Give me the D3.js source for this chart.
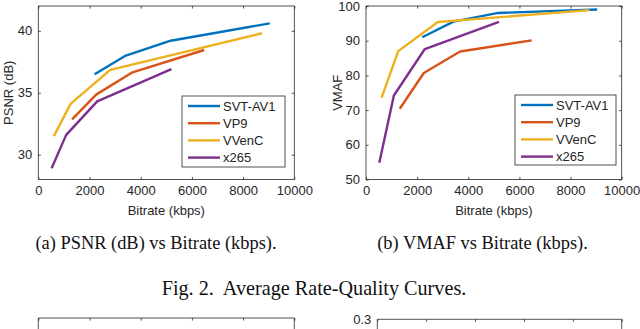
<!DOCTYPE html>
<html><head><meta charset="utf-8">
<script src="https://cdn.jsdelivr.net/npm/d3@7"></script>
<style>
html,body{margin:0;padding:0;background:#fff;}
svg{display:block;}
</style></head>
<body>
<svg id="c" width="640" height="329"></svg>
<script>
// ---- data ----
const codecs = ["SVT-AV1", "VP9", "VVenC", "x265"];
const colors = ["#0072BD", "#D95319", "#EDB120", "#7E2F8E"];
const bitrate = {
  "SVT-AV1": [2200, 3420, 5170, 9040],
  "VP9":     [1320, 2260, 3680, 6480],
  "VVenC":   [610, 1260, 2810, 8740],
  "x265":    [520, 1090, 2300, 5200]
};
const psnr = {
  "SVT-AV1": [36.5, 38.0, 39.2, 40.6],
  "VP9":     [32.85, 34.85, 36.65, 38.45],
  "VVenC":   [31.5, 34.1, 36.85, 39.8],
  "x265":    [28.9, 31.6, 34.3, 36.9]
};
const vmaf = {
  "SVT-AV1": [91.0, 95.5, 98.0, 99.0],
  "VP9":     [70.4, 80.7, 86.9, 90.1],
  "VVenC":   [73.6, 87.0, 95.4, 98.8],
  "x265":    [54.8, 74.2, 87.6, 95.4]
};
const xTicks = [0, 2000, 4000, 6000, 8000, 10000];
const psnrTicks = [30, 35, 40];
const vmafTicks = [50, 60, 70, 80, 90, 100];
const captions = ["(a) PSNR (dB) vs Bitrate (kbps).", "(b) VMAF vs Bitrate (kbps)."];
const figCaption = "Fig. 2.  Average Rate-Quality Curves.";
const lowerTicks = [0, 1, 2, 3, 4, 5];

const svg = d3.select("#c");
const AX = "#262626";
const sans = "'Liberation Sans', Arial, Helvetica, sans-serif";
const serif = "'Liberation Serif', 'Times New Roman', serif";
const TL = 2.6;

function panel(opt){
  const g = svg.append("g");
  const x = d3.scaleLinear().domain([0, 10000]).range([opt.x0, opt.x1]);
  const y = d3.scaleLinear().domain(opt.ydom).range([opt.y1, opt.y0]);
  g.append("rect").attr("x", opt.x0).attr("y", opt.y0)
    .attr("width", opt.x1 - opt.x0).attr("height", opt.y1 - opt.y0)
    .attr("fill", "none").attr("stroke", AX).attr("stroke-width", 0.8);
  const ax = g.append("g").attr("transform", `translate(0,${opt.y1})`)
    .call(d3.axisBottom(x).tickValues(xTicks).tickSizeInner(-TL).tickSizeOuter(0).tickPadding(9).tickFormat(d3.format("d")));
  const ay = g.append("g").attr("transform", `translate(${opt.x0},0)`)
    .call(d3.axisLeft(y).tickValues(opt.yticks).tickSizeInner(-TL).tickSizeOuter(0).tickPadding(6));
  const at = g.append("g").attr("transform", `translate(0,${opt.y0})`)
    .call(d3.axisTop(x).tickValues(xTicks).tickSizeInner(-TL).tickSizeOuter(0).tickFormat(""));
  const ar = g.append("g").attr("transform", `translate(${opt.x1},0)`)
    .call(d3.axisRight(y).tickValues(opt.yticks).tickSizeInner(-TL).tickSizeOuter(0).tickFormat(""));
  [ax, ay, at, ar].forEach(a => {
    a.select(".domain").remove();
    a.selectAll("line").attr("stroke", AX).attr("stroke-width", 0.8);
    a.selectAll("text").attr("fill", AX).attr("font-family", sans).attr("font-size", 13);
  });
  ax.selectAll("text").attr("dy", "0.5em");
  g.append("text").attr("x", (opt.x0 + opt.x1) / 2).attr("y", 215)
    .attr("text-anchor", "middle").attr("fill", AX).attr("font-family", sans).attr("font-size", 13)
    .text("Bitrate (kbps)");
  g.append("text").attr("transform", `translate(${opt.ylabX},${(opt.y0 + opt.y1) / 2}) rotate(-90)`)
    .attr("text-anchor", "middle").attr("dy", "0.35em").attr("fill", AX).attr("font-family", sans).attr("font-size", 13)
    .text(opt.ylab);
  const line = d3.line().x(d => x(d[0])).y(d => y(d[1]));
  codecs.forEach((c, i) => {
    const pts = bitrate[c].map((b, k) => [b, opt.data[c][k]]);
    g.append("path").attr("d", line(pts)).attr("fill", "none")
      .attr("stroke", colors[i]).attr("stroke-width", 2.4).attr("stroke-linejoin", "round");
  });
  const L = opt.leg;
  g.append("rect").attr("x", L.x).attr("y", L.y).attr("width", L.w).attr("height", L.h)
    .attr("fill", "#fff").attr("stroke", AX).attr("stroke-width", 0.8);
  codecs.forEach((c, i) => {
    const yy = L.y + 10 + i * 17.2;
    g.append("line").attr("x1", L.x + 6).attr("x2", L.x + 38).attr("y1", yy).attr("y2", yy)
      .attr("stroke", colors[i]).attr("stroke-width", 2.4);
    g.append("text").attr("x", L.x + 41).attr("y", yy).attr("dy", "0.36em")
      .attr("fill", AX).attr("font-family", sans).attr("font-size", 13).text(c);
  });
  svg.append("text").attr("x", opt.capX).attr("y", 249).attr("text-anchor", "middle")
    .attr("font-family", serif).attr("font-size", 18.4).attr("fill", "#111").text(opt.caption);
}

panel({x0: 38.3, x1: 294.3, y0: 6, y1: 179.5, ydom: [28, 42], yticks: psnrTicks, data: psnr,
  ylab: "PSNR (dB)", ylabX: 8, leg: {x: 182, y: 96, w: 103, h: 71}, caption: captions[0], capX: 156});
panel({x0: 366, x1: 621.7, y0: 6, y1: 179.5, ydom: [50, 100], yticks: vmafTicks, data: vmaf,
  ylab: "VMAF", ylabX: 337, leg: {x: 515, y: 95, w: 101, h: 70}, caption: captions[1], capX: 482.5});

svg.append("text").attr("x", 314).attr("y", 295).attr("text-anchor", "middle")
  .attr("font-family", serif).attr("font-size", 20.2).attr("fill", "#111")
  .style("white-space", "pre").text(figCaption);

function lower(x0, x1, y0, label){
  const g = svg.append("g");
  const x = d3.scaleLinear().domain([0, 5]).range([x0, x1]);
  g.append("path").attr("d", `M${x0},340V${y0}H${x1}V340`).attr("fill", "none")
    .attr("stroke", AX).attr("stroke-width", 0.8);
  const a = g.append("g").attr("transform", `translate(0,${y0})`)
    .call(d3.axisTop(x).tickValues(lowerTicks).tickSizeInner(-TL).tickSizeOuter(0).tickFormat(""));
  a.select(".domain").remove();
  a.selectAll("line").attr("stroke", AX).attr("stroke-width", 0.8);
  if (label) {
    g.append("text").attr("x", x0 - 6).attr("y", y0).attr("dy", "0.35em").attr("text-anchor", "end")
      .attr("fill", AX).attr("font-family", sans).attr("font-size", 13).text(label);
  }
}
lower(38.3, 294.3, 318, null);
lower(377.3, 621.7, 319.3, "0.3");
</script>
</body></html>
